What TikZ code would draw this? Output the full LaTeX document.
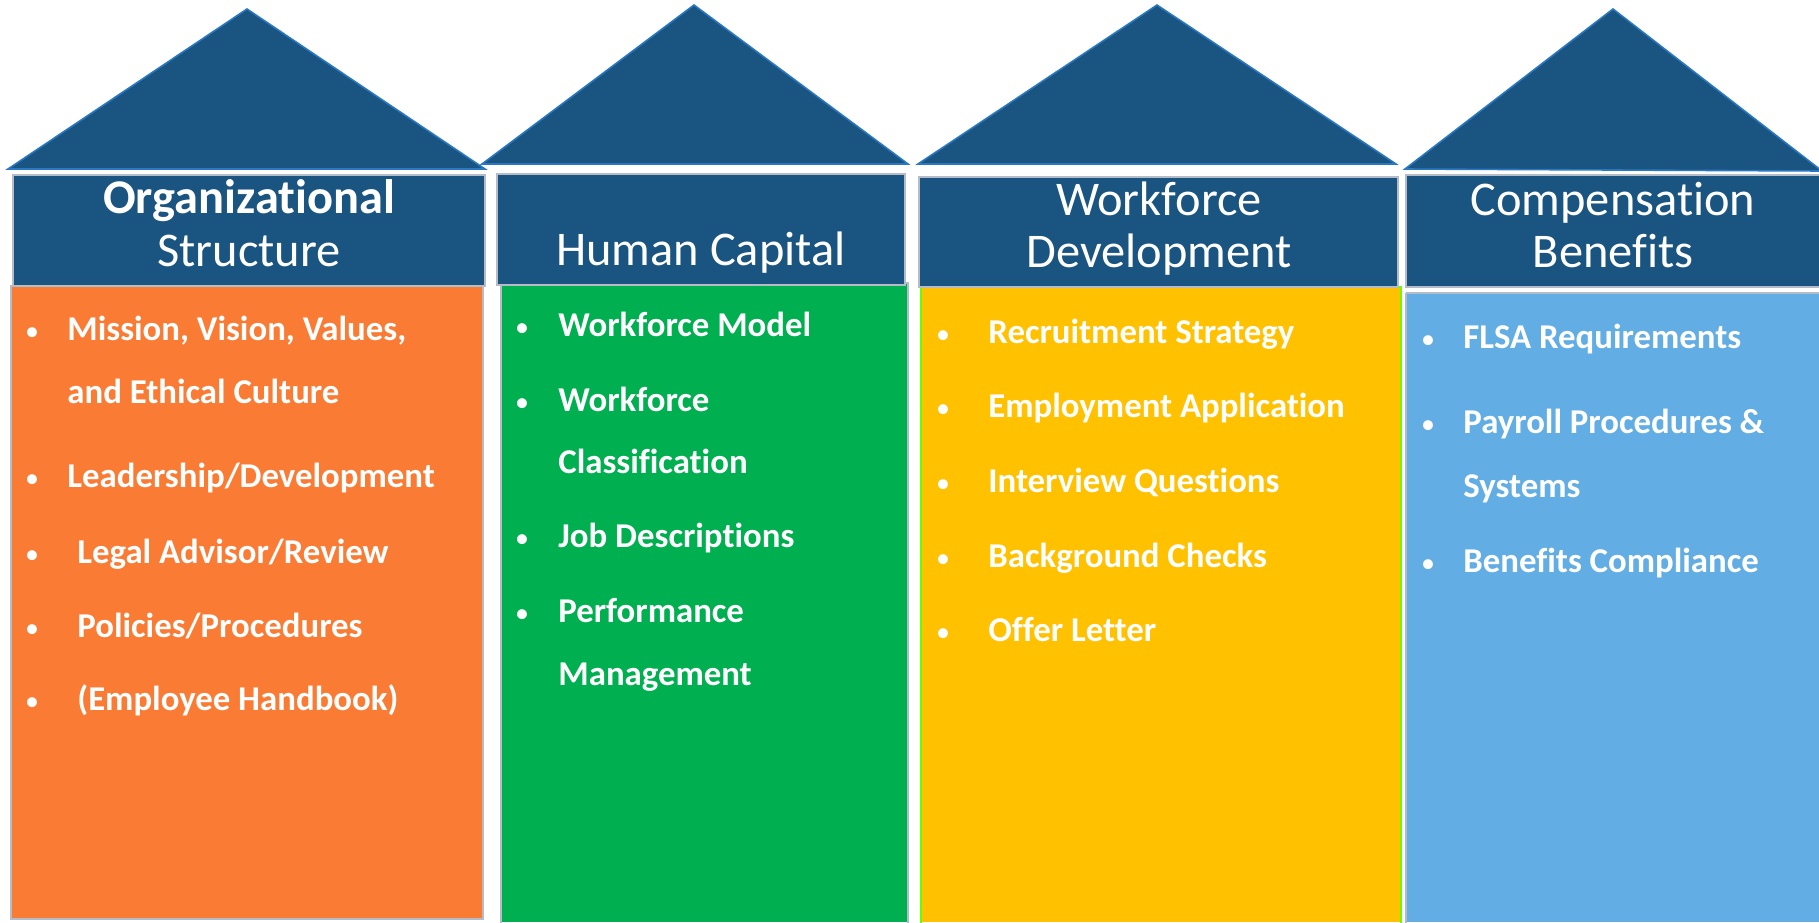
\documentclass[tikz,border=0pt]{standalone}
\usepackage{fontspec}
\setmainfont{Carlito}[Ligatures=NoCommon]
\definecolor{roofblue}{HTML}{1A5480}
\definecolor{roofedge}{HTML}{2A78C2}
\definecolor{boxedge}{HTML}{B4BCC8}
\definecolor{colorange}{HTML}{FA7B34}
\definecolor{colgreen}{HTML}{00AF50}
\definecolor{colyellow}{HTML}{FFC100}
\definecolor{colblue}{HTML}{61ADE4}
\begin{document}
\begin{tikzpicture}[x=0.5pt,y=-0.5pt,
  roof/.style={fill=roofblue,draw=roofedge,line width=0.8pt,line join=miter},
  headbox/.style={fill=roofblue,draw=boxedge,line width=0.8pt},
  bodybox/.style={draw=boxedge,line width=0.8pt},
  headtext/.style={text=white,font=\fontsize{24.2}{29}\selectfont,inner sep=0pt,anchor=base},
  item/.style={text=white,font=\bfseries\fontsize{17.4}{20}\selectfont,inner sep=0pt,anchor=base west},
  dot/.style={text=white,font=\fontsize{14}{17}\selectfont,inner sep=0pt,anchor=base}]
\useasboundingbox (0,0) rectangle (1819,922);

% column bodies
\fill[colorange] (11,286) rectangle (483,919);
\draw[bodybox] (11,286) rectangle (483,919);
\fill[colgreen] (501,283) rectangle (908,922);
\draw[bodybox] (501,283) rectangle (908,925);
\fill[colyellow] (921,287) rectangle (1401,922);
\draw[bodybox,draw=green!60!yellow] (921,287) rectangle (1401,925);
\fill[colblue] (1406,293) rectangle (1819,922);
\draw[bodybox] (1406,293) -- (1406,925);
\draw[bodybox] (1406,293) -- (1822,293);

% header bars
\draw[headbox] (13,175) rectangle (485,286);
\draw[headbox] (497,174) rectangle (905,285);
\draw[headbox] (919,177) rectangle (1398,287);
\draw[headbox] (1406,175) rectangle (1822,287);

% roofs
\draw[roof] (8,169) -- (247,9) -- (485,169) -- cycle;
\draw[roof] (482,164) -- (694,5) -- (908,164) -- cycle;
\draw[roof] (918,164) -- (1157,5) -- (1396,164) -- cycle;
\draw[roof] (1405,169) -- (1613,9) -- (1822,171) -- cycle;

% header titles
\node[headtext,font=\bfseries\fontsize{24.2}{29}\selectfont] (h1a) at (249,213) {Organizational};
\node[headtext] (h1b) at (249,266) {Structure};
\node[headtext] (h2) at (701,265) {Human Capital};
\node[headtext] (h3a) at (1159,215) {Workforce};
\node[headtext] (h3b) at (1159,267) {Development};
\node[headtext] (h4a) at (1613,215) {Compensation};
\node[headtext] (h4b) at (1613,267) {Benefits};

% column 1 items
\foreach \y [count=\i] in {340,487,563,637,710}
  \node[dot] (d1\i) at (32,\y) {•};
\node[item] (a1) at (67,340) {Mission, Vision, Values,};
\node[item] (a1b) at (67,403) {and Ethical Culture};
\node[item] (a2) at (67,487) {Leadership/Development};
\node[item] (a3) at (77,563) {Legal Advisor/Review};
\node[item] (a4) at (77,637) {Policies/Procedures};
\node[item] (a5) at (77,710) {(Employee Handbook)};

% column 2 items
\foreach \y [count=\i] in {336,411,547,622}
  \node[dot] (d2\i) at (522,\y) {•};
\node[item] (b1) at (558,336) {Workforce Model};
\node[item] (b2) at (558,411) {Workforce};
\node[item] (b2b) at (558,473) {Classification};
\node[item] (b3) at (558,547) {Job Descriptions};
\node[item] (b4) at (558,622) {Performance};
\node[item] (b4b) at (558,685) {Management};

% column 3 items
\foreach \y [count=\i] in {343,417,492,567,641}
  \node[dot] (d3\i) at (943,\y) {•};
\node[item] (c1) at (988,343) {Recruitment Strategy};
\node[item] (c2) at (988,417) {Employment Application};
\node[item] (c3) at (988,492) {Interview Questions};
\node[item] (c4) at (988,567) {Background Checks};
\node[item] (c5) at (988,641) {Offer Letter};

% column 4 items
\foreach \y [count=\i] in {348,433,572}
  \node[dot] (d4\i) at (1428,\y) {•};
\node[item] (e1) at (1463,348) {FLSA Requirements};
\node[item] (e2) at (1463,433) {Payroll Procedures \&};
\node[item] (e2b) at (1463,497) {Systems};
\node[item] (e3) at (1463,572) {Benefits Compliance};
\end{tikzpicture}
\end{document}
